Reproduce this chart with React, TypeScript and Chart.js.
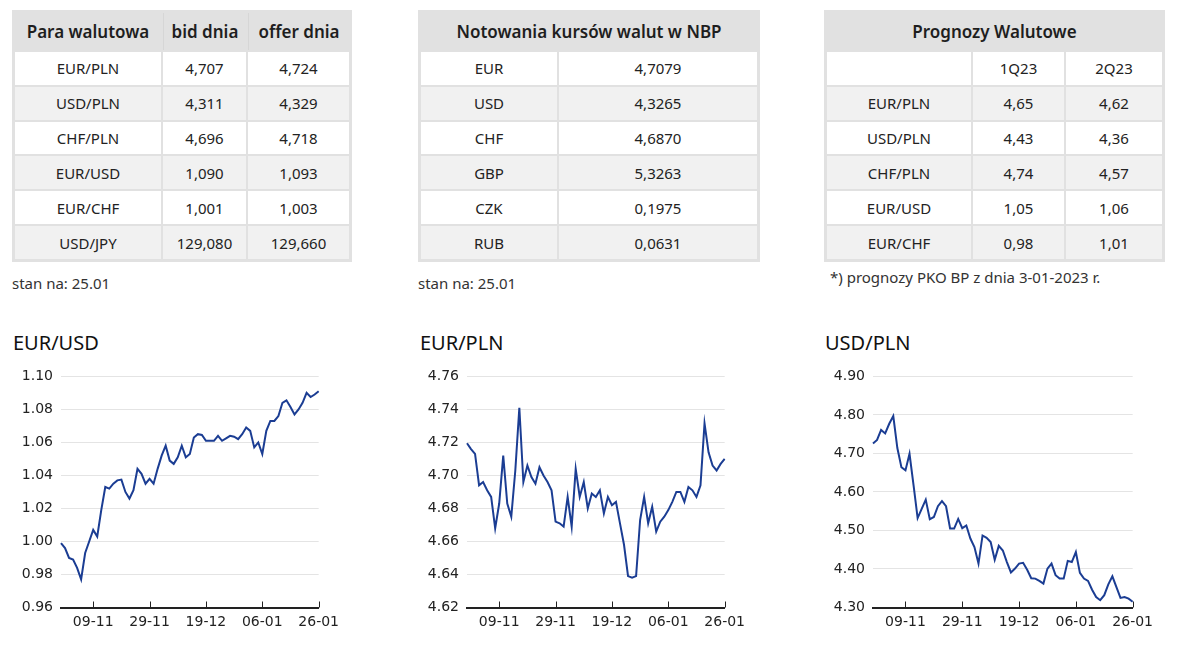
import React, { useEffect, useRef } from 'react';
import { Chart, registerables } from 'chart.js';

Chart.register(...registerables);

// ---------- data ----------
const DATES = [
  '28-10', '31-10', '01-11', '02-11', '03-11', '04-11', '07-11', '08-11', '09-11', '10-11',
  '11-11', '14-11', '15-11', '16-11', '17-11', '18-11', '21-11', '22-11', '23-11', '24-11',
  '25-11', '28-11', '29-11', '30-11', '01-12', '02-12', '05-12', '06-12', '07-12', '08-12',
  '09-12', '12-12', '13-12', '14-12', '15-12', '16-12', '19-12', '20-12', '21-12', '22-12',
  '23-12', '26-12', '27-12', '28-12', '29-12', '30-12', '02-01', '03-01', '04-01', '05-01',
  '06-01', '09-01', '10-01', '11-01', '12-01', '13-01', '16-01', '17-01', '18-01', '19-01',
  '20-01', '23-01', '24-01', '25-01', '26-01',
];
const X_TICK_LABELS = ['09-11', '29-11', '19-12', '06-01', '26-01'];

const EURUSD = [
  0.999, 0.996, 0.990, 0.989, 0.984, 0.977, 0.993, 1.000, 1.007, 1.003,
  1.019, 1.033, 1.032, 1.035, 1.037, 1.0375, 1.030, 1.026, 1.031, 1.044,
  1.041, 1.035, 1.038, 1.035, 1.044, 1.052, 1.058, 1.049, 1.047, 1.051,
  1.058, 1.051, 1.053, 1.063, 1.065, 1.0645, 1.061, 1.061, 1.061, 1.064,
  1.061, 1.0625, 1.064, 1.0635, 1.062, 1.065, 1.069, 1.067, 1.057, 1.060,
  1.053, 1.067, 1.073, 1.073, 1.076, 1.084, 1.0855, 1.0815, 1.077, 1.080,
  1.084, 1.090, 1.0875, 1.089, 1.091,
];
const EURPLN = [
  4.7195, 4.716, 4.713, 4.694, 4.696, 4.691, 4.687, 4.668, 4.683, 4.712,
  4.683, 4.675, 4.703, 4.741, 4.696, 4.706, 4.699, 4.695, 4.705, 4.700,
  4.696, 4.691, 4.672, 4.671, 4.669, 4.687, 4.669, 4.704, 4.687, 4.696,
  4.680, 4.689, 4.687, 4.691, 4.677, 4.687, 4.682, 4.684, 4.671, 4.658,
  4.639, 4.638, 4.639, 4.673, 4.687, 4.671, 4.681, 4.666, 4.672, 4.675,
  4.679, 4.684, 4.690, 4.690, 4.684, 4.693, 4.691, 4.687, 4.694, 4.7315,
  4.714, 4.706, 4.703, 4.707, 4.710,
];
const USDPLN = [
  4.726, 4.735, 4.761, 4.752, 4.777, 4.797, 4.714, 4.664, 4.656, 4.699,
  4.617, 4.532, 4.556, 4.580, 4.529, 4.535, 4.563, 4.576, 4.563, 4.505,
  4.505, 4.530, 4.506, 4.513, 4.479, 4.457, 4.414, 4.487, 4.481, 4.470,
  4.424, 4.460, 4.448, 4.418, 4.391, 4.401, 4.414, 4.416, 4.398, 4.376,
  4.375, 4.369, 4.362, 4.401, 4.414, 4.384, 4.375, 4.375, 4.421, 4.418,
  4.444, 4.390, 4.375, 4.369, 4.346, 4.327, 4.319, 4.332, 4.360, 4.381,
  4.353, 4.325, 4.327, 4.323, 4.315,
];

const EURUSD_TICKS = [0.96, 0.98, 1.0, 1.02, 1.04, 1.06, 1.08, 1.1];
const EURPLN_TICKS = [4.62, 4.64, 4.66, 4.68, 4.7, 4.72, 4.74, 4.76];
const USDPLN_TICKS = [4.3, 4.4, 4.5, 4.6, 4.7, 4.8, 4.9];

const T1_HEAD = ['Para walutowa', 'bid dnia', 'offer dnia'];
const T1_PAIRS = ['EUR/PLN', 'USD/PLN', 'CHF/PLN', 'EUR/USD', 'EUR/CHF', 'USD/JPY'];
const T1_BID = ['4,707', '4,311', '4,696', '1,090', '1,001', '129,080'];
const T1_OFFER = ['4,724', '4,329', '4,718', '1,093', '1,003', '129,660'];

const T2_TITLE = 'Notowania kursów walut w NBP';
const T2_CUR = ['EUR', 'USD', 'CHF', 'GBP', 'CZK', 'RUB'];
const T2_RATE = ['4,7079', '4,3265', '4,6870', '5,3263', '0,1975', '0,0631'];

const T3_TITLE = 'Prognozy Walutowe';
const T3_PERIODS = ['1Q23', '2Q23'];
const T3_PAIRS = ['EUR/PLN', 'USD/PLN', 'CHF/PLN', 'EUR/USD', 'EUR/CHF'];
const T3_Q1 = ['4,65', '4,43', '4,74', '1,05', '0,98'];
const T3_Q2 = ['4,62', '4,36', '4,57', '1,06', '1,01'];

const NOTE_1 = 'stan na: 25.01';
const NOTE_2 = 'stan na: 25.01';
const NOTE_3 = '*) prognozy PKO BP z dnia 3-01-2023 r.';

// ---------- styles ----------
const FONT = '"Noto Sans", "Open Sans", sans-serif';
const TICK_FONT = '"DejaVu Sans", sans-serif';
const LINE_COLOR = '#1b3d93';
const TABLE_BG = '#e1e1e1';
const ROW_ALT = '#f1f1f1';

type TableProps = {
  left: number;
  top: number;
  cols: number[];
  header: string[] | string;
  rows: string[][];
};

function DataTable({ left, top, cols, header, rows }: TableProps) {
  const width = cols.reduce((a, b) => a + b, 0) + (cols.length - 1) * 2 + 6;
  const cells: React.ReactNode[] = [];
  const headStyle: React.CSSProperties = { background: TABLE_BG, display: 'flex', alignItems: 'center', justifyContent: 'center', fontSize: 17, fontWeight: 600, color: '#1e1e1e' };
  if (typeof header === 'string') {
    cells.push(
      <div key="h" style={{ ...headStyle, gridColumn: `1 / span ${cols.length}` }}>
        {header}
      </div>
    );
  } else {
    header.forEach((h, i) =>
      cells.push(
        <div key={'h' + i} style={{ ...headStyle, borderLeft: i > 0 ? '1px solid #d6d6d6' : 'none' }}>
          {h}
        </div>
      )
    );
  }
  rows.forEach((r, ri) =>
    r.forEach((c, ci) =>
      cells.push(
        <div key={ri + '-' + ci} style={{ background: ri % 2 === 0 ? '#ffffff' : ROW_ALT, display: 'flex', alignItems: 'center', justifyContent: 'center', fontSize: 15, color: '#222' }}>
          {c}
        </div>
      )
    )
  );
  return (
    <div
      style={{
        position: 'absolute',
        left,
        top,
        width,
        height: 252,
        boxSizing: 'border-box',
        padding: 3,
        background: TABLE_BG,
        display: 'grid',
        gridTemplateColumns: cols.map((c) => c + 'px').join(' '),
        gridTemplateRows: `37px repeat(${rows.length}, 1fr)`,
        gap: 2,
        fontFamily: FONT,
      }}
    >
      {cells}
    </div>
  );
}

const tickMarks = {
  id: 'tickMarks',
  afterDraw(chart: any) {
    const xs = chart.scales.x;
    const ctx = chart.ctx;
    const b = chart.chartArea.bottom;
    ctx.save();
    ctx.strokeStyle = '#222';
    ctx.lineWidth = 1;
    xs.ticks.forEach((_t: any, i: number) => {
      const px = Math.round(xs.getPixelForTick(i)) + 0.5;
      ctx.beginPath();
      ctx.moveTo(px, b);
      ctx.lineTo(px, b - 6);
      ctx.stroke();
    });
    ctx.restore();
  },
};

type ChartProps = {
  left: number;
  width: number;
  values: number[];
  yTicks: number[];
  title: string;
  titleLeft: number;
};

function LineChart({ left, width, values, yTicks, title, titleLeft }: ChartProps) {
  const ref = useRef<HTMLCanvasElement>(null);
  useEffect(() => {
    if (!ref.current) return;
    const chart = new Chart(ref.current, {
      type: 'line',
      data: {
        labels: DATES,
        datasets: [
          {
            data: values,
            borderColor: LINE_COLOR,
            borderWidth: 2,
            pointRadius: 0,
            tension: 0,
            fill: false,
          },
        ],
      },
      options: {
        animation: false,
        responsive: false,
        maintainAspectRatio: false,
        layout: { padding: { top: 16, right: 23, bottom: 4.5, left: 0 } },
        plugins: { legend: { display: false }, tooltip: { enabled: false }, title: { display: false } },
        scales: {
          x: {
            type: 'category',
            grid: { display: false, drawTicks: false },
            border: { display: true, color: '#222', width: 2 },
            ticks: {
              autoSkip: false,
              maxRotation: 0,
              padding: 6,
              color: '#222',
              font: { family: TICK_FONT, size: 14 },
            },
            afterBuildTicks: (scale: any) => {
              scale.ticks = scale.ticks.filter((t: any) => X_TICK_LABELS.includes(DATES[t.value]));
            },
            afterFit: (scale: any) => {
              scale.height = 30;
            },
          },
          y: {
            type: 'linear',
            min: yTicks[0],
            max: yTicks[yTicks.length - 1],
            grid: { color: '#e4e4e4', lineWidth: 1, drawTicks: false },
            border: { display: false },
            ticks: {
              padding: 8,
              color: '#222',
              font: { family: TICK_FONT, size: 14 },
              callback: (v: any) => Number(v).toFixed(2),
            },
            afterBuildTicks: (scale: any) => {
              scale.ticks = yTicks.map((v) => ({ value: v }));
            },
            afterFit: (scale: any) => {
              scale.width = 61;
            },
          },
        },
      },
      plugins: [tickMarks],
    });
    return () => chart.destroy();
  }, []);
  return (
    <>
      <div style={{ position: 'absolute', left: titleLeft, top: 330, fontFamily: FONT, fontSize: 20, lineHeight: '26px', color: '#111' }}>{title}</div>
      <canvas ref={ref} width={width} height={282} style={{ position: 'absolute', left, top: 360, width, height: 282 }} />
    </>
  );
}

export default function App() {
  const t1Rows = T1_PAIRS.map((p, i) => [p, T1_BID[i], T1_OFFER[i]]);
  const t2Rows = T2_CUR.map((c, i) => [c, T2_RATE[i]]);
  const t3Rows = [['', ...T3_PERIODS], ...T3_PAIRS.map((p, i) => [p, T3_Q1[i], T3_Q2[i]])];
  const noteStyle: React.CSSProperties = { position: 'absolute', fontFamily: FONT, fontSize: 15, color: '#333', lineHeight: '20px' };
  return (
    <div style={{ position: 'absolute', left: 0, top: 0, width: 1200, height: 646, background: '#fff', overflow: 'hidden' }}>
      <DataTable left={12} top={10} cols={[146, 83, 101]} header={T1_HEAD} rows={t1Rows} />
      <DataTable left={418} top={10} cols={[136, 198]} header={T2_TITLE} rows={t2Rows} />
      <DataTable left={824} top={10} cols={[144, 91, 96]} header={T3_TITLE} rows={t3Rows} />
      <div style={{ ...noteStyle, left: 12, top: 273 }}>{NOTE_1}</div>
      <div style={{ ...noteStyle, left: 418, top: 273 }}>{NOTE_2}</div>
      <div style={{ ...noteStyle, left: 830, top: 267 }}>{NOTE_3}</div>
      <LineChart left={0} width={345} values={EURUSD} yTicks={EURUSD_TICKS} title="EUR/USD" titleLeft={13} />
      <LineChart left={406} width={345} values={EURPLN} yTicks={EURPLN_TICKS} title="EUR/PLN" titleLeft={420} />
      <LineChart left={812} width={347} values={USDPLN} yTicks={USDPLN_TICKS} title="USD/PLN" titleLeft={825} />
    </div>
  );
}
